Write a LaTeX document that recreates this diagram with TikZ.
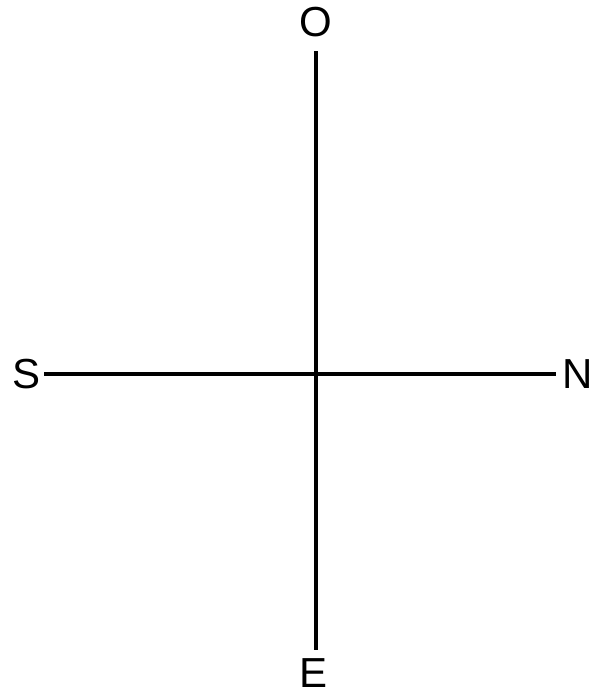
\documentclass[tikz,border=0pt]{standalone}
\usepackage{fontspec}
\setmainfont{Liberation Sans}
\usetikzlibrary{positioning}

\begin{document}
\begin{tikzpicture}[x=1pt,y=-1pt,
  pole/.style={font=\fontsize{42}{42}\selectfont,inner sep=0pt},
  axis/.style={line width=3.5pt}]
\useasboundingbox (0,0) rectangle (600,697);

\node[pole] (O) at (316,22) {O};
\node[pole] (E) at (314,673) {E};
\node[pole] (S) at (27,374) {S};
\node[pole] (N) at (578,374) {N};

\draw[axis,line width=4pt,shorten <=14pt,shorten >=8pt] (O.south) -- (O.south |- E.north);
\draw[axis,shorten <=3pt,shorten >=7pt] (S.east) -- (N.west);
\end{tikzpicture}
\end{document}
